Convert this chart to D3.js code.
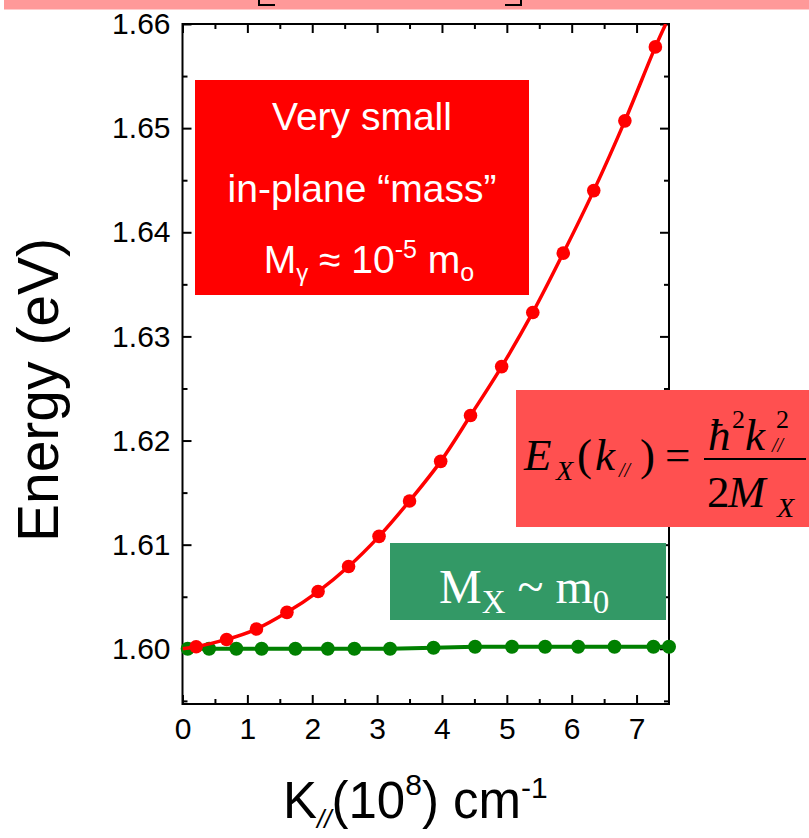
<!DOCTYPE html>
<html>
<head>
<meta charset="utf-8">
<script src="https://cdn.jsdelivr.net/npm/d3@7"></script>
<style>
  body { margin: 0; background: #fff; }
  svg { display: block; }
</style>
</head>
<body>
<div id="chart"></div>
<script>
// data
var xTicks = [0, 1, 2, 3, 4, 5, 6, 7];
var yTicks = [1.60, 1.61, 1.62, 1.63, 1.64, 1.65, 1.66];

// red: small in-plane mass
var redK = [0.21, 0.68, 1.14, 1.61, 2.09, 2.56, 3.03, 3.50, 3.98, 4.44, 4.92, 5.40, 5.87, 6.34, 6.82, 7.29];
var redE = [1.6002, 1.6009, 1.6019, 1.6035, 1.6055, 1.6079, 1.6108, 1.6142, 1.6180, 1.6224, 1.6271, 1.6323, 1.6380, 1.6440, 1.6507, 1.6578];
// ends of the red fit curve
var redFitK = [0, 7.45];
var redFitE = [1.6000, 1.6600];

// green: M_X ~ m0
var greenK = [0.08, 0.41, 0.83, 1.22, 1.74, 2.24, 2.65, 3.20, 3.87, 4.51, 5.08, 5.59, 6.10, 6.66, 7.26, 7.50];
var greenE = [1.6000, 1.6000, 1.6000, 1.6000, 1.6000, 1.6000, 1.6000, 1.6000, 1.6001, 1.6002, 1.6002, 1.6002, 1.6002, 1.6002, 1.6002, 1.6002];

var W = 809, H = 838;
var plot = {left: 182.5, right: 669, top: 24, bottom: 704};

var svg = d3.select("#chart")
  .append("svg")
  .attr("width", W)
  .attr("height", H);

//pink band and bracket bits at the top
svg.append("rect")
  .attr("x", 4).attr("y", 0)
  .attr("width", W - 4).attr("height", 9.5)
  .style("fill", "#ff9999");
svg.append("path")
  .attr("d", "M259,0V5H275 M521,0V5H505")
  .style("fill", "none").style("stroke", "#000").style("stroke-width", 2);

var xScale = d3.scaleLinear().domain([0, 7.5]).range([plot.left, plot.right]);
var yScale = d3.scaleLinear().domain([1.5947, 1.66]).range([plot.bottom, plot.top]);

var xMinor = d3.range(0.5, 7.5, 1);
var yMinor = d3.range(1.595, 1.66, 0.01);

function styleAxis(g) {
  g.select(".domain").remove();
  g.selectAll(".tick line").style("stroke", "#000").style("stroke-width", 2);
  g.selectAll("text")
    .style("font-family", "'Liberation Sans', Arial, sans-serif")
    .style("font-size", "30px")
    .style("fill", "#000");
}

// bottom
svg.append("g")
  .attr("transform", "translate(0," + plot.bottom + ")")
  .call(d3.axisBottom(xScale).tickValues(xTicks).tickSize(-9).tickPadding(14).tickFormat(d3.format("d")))
  .call(styleAxis);
svg.append("g")
  .attr("transform", "translate(0," + plot.bottom + ")")
  .call(d3.axisBottom(xScale).tickValues(xMinor).tickSize(-5).tickFormat(""))
  .call(styleAxis);
// top
svg.append("g")
  .attr("transform", "translate(0," + plot.top + ")")
  .call(d3.axisTop(xScale).tickValues(xTicks).tickSize(-9).tickFormat(""))
  .call(styleAxis);
svg.append("g")
  .attr("transform", "translate(0," + plot.top + ")")
  .call(d3.axisTop(xScale).tickValues(xMinor).tickSize(-5).tickFormat(""))
  .call(styleAxis);
// left
svg.append("g")
  .attr("transform", "translate(" + plot.left + ",0)")
  .call(d3.axisLeft(yScale).tickValues(yTicks).tickSize(-9).tickPadding(12).tickFormat(d3.format(".2f")))
  .call(styleAxis);
svg.append("g")
  .attr("transform", "translate(" + plot.left + ",0)")
  .call(d3.axisLeft(yScale).tickValues(yMinor).tickSize(-5).tickFormat(""))
  .call(styleAxis);
// right
svg.append("g")
  .attr("transform", "translate(" + plot.right + ",0)")
  .call(d3.axisRight(yScale).tickValues(yTicks).tickSize(-9).tickFormat(""))
  .call(styleAxis);
svg.append("g")
  .attr("transform", "translate(" + plot.right + ",0)")
  .call(d3.axisRight(yScale).tickValues(yMinor).tickSize(-5).tickFormat(""))
  .call(styleAxis);

//frame
svg.append("rect")
  .attr("x", plot.left).attr("y", plot.top)
  .attr("width", plot.right - plot.left)
  .attr("height", plot.bottom - plot.top)
  .style("fill", "none").style("stroke", "#000").style("stroke-width", 2);

svg.append("clipPath").attr("id", "clip")
  .append("rect")
  .attr("x", plot.left).attr("y", plot.top)
  .attr("width", plot.right - plot.left)
  .attr("height", plot.bottom - plot.top);

var redPts = redK.map(function(k, i) { return [k, redE[i]]; });
var greenPts = greenK.map(function(k, i) { return [k, greenE[i]]; });
var redLinePts = [[redFitK[0], redFitE[0]]].concat(redPts, [[redFitK[1], redFitE[1]]]);

var line = d3.line()
  .x(function(d) { return xScale(d[0]); })
  .y(function(d) { return yScale(d[1]); });

// green series
svg.append("path")
  .datum([[0, greenE[0]]].concat(greenPts))
  .attr("clip-path", "url(#clip)")
  .attr("d", line)
  .style("fill", "none").style("stroke", "#008000").style("stroke-width", 4);
svg.selectAll(".gdot")
  .data(greenPts)
  .enter().append("circle")
  .attr("class", "gdot")
  .attr("cx", function(d) { return xScale(d[0]); })
  .attr("cy", function(d) { return yScale(d[1]); })
  .attr("r", 7)
  .style("fill", "#008000");

// red series
svg.append("path")
  .datum(redLinePts)
  .attr("clip-path", "url(#clip)")
  .attr("d", line.curve(d3.curveCatmullRom))
  .style("fill", "none").style("stroke", "#ff0000").style("stroke-width", 3.5);
svg.selectAll(".rdot")
  .data(redPts)
  .enter().append("circle")
  .attr("class", "rdot")
  .attr("cx", function(d) { return xScale(d[0]); })
  .attr("cy", function(d) { return yScale(d[1]); })
  .attr("r", 6.8)
  .style("fill", "#ff0000");

// axis titles
svg.append("text")
  .attr("transform", "translate(58,390) rotate(-90)")
  .attr("text-anchor", "middle")
  .style("font-family", "'Liberation Sans', Arial, sans-serif")
  .style("font-size", "57px")
  .text("Energy (eV)");

var xt = svg.append("text")
  .attr("x", 283).attr("y", 818)
  .style("font-family", "'Liberation Sans', Arial, sans-serif")
  .style("font-size", "51px");
xt.append("tspan").text("K");
xt.append("tspan").attr("dy", 10).style("font-size", "26px").style("font-style", "italic").text("//");
xt.append("tspan").attr("dy", -10).text("(10");
xt.append("tspan").attr("dy", -23).style("font-size", "30px").text("8");
xt.append("tspan").attr("dy", 23).text(") cm");
xt.append("tspan").attr("dy", -20).style("font-size", "30px").text("-1");

// red annotation box
svg.append("rect")
  .attr("x", 195).attr("y", 80).attr("width", 334).attr("height", 215)
  .style("fill", "#ff0000");
var sans = "'Liberation Sans', Arial, sans-serif";
svg.append("text")
  .attr("x", 362).attr("y", 130).attr("text-anchor", "middle")
  .style("font-family", sans).style("font-size", "39px").style("fill", "#fff")
  .text("Very small");
svg.append("text")
  .attr("x", 362).attr("y", 202).attr("text-anchor", "middle")
  .style("font-family", sans).style("font-size", "39px").style("fill", "#fff")
  .text("in-plane \u201cmass\u201d");
var t3 = svg.append("text")
  .attr("x", 369).attr("y", 273).attr("text-anchor", "middle")
  .style("font-family", sans).style("font-size", "39px").style("fill", "#fff");
t3.append("tspan").text("M");
t3.append("tspan").attr("dy", 8).style("font-size", "24px").text("\u03b3");
t3.append("tspan").attr("dy", -8).text(" \u2248 10");
t3.append("tspan").attr("dy", -15).style("font-size", "25px").text("-5");
t3.append("tspan").attr("dy", 15).text(" m");
t3.append("tspan").attr("dy", 8).style("font-size", "25px").text("o");

// formula box
svg.append("rect")
  .attr("x", 516).attr("y", 390).attr("width", W - 516).attr("height", 137)
  .style("fill", "#ff5050");
var serif = "'Liberation Serif', 'Times New Roman', serif";
var formula = [
  {t: "E", x: 524, y: 470, s: 45, i: true},
  {t: "X", x: 556, y: 480, s: 28, i: true},
  {t: "(", x: 577, y: 470, s: 45, i: false},
  {t: "k", x: 595, y: 470, s: 45, i: true},
  {t: "//", x: 619, y: 477, s: 20, i: true},
  {t: ")", x: 640, y: 470, s: 45, i: false},
  {t: "=", x: 665, y: 470, s: 45, i: false},
  {t: "\u0127", x: 708, y: 450, s: 45, i: true},
  {t: "2", x: 732, y: 428, s: 26, i: false},
  {t: "k", x: 745, y: 450, s: 45, i: true},
  {t: "2", x: 776, y: 428, s: 26, i: false},
  {t: "//", x: 772, y: 452, s: 20, i: true},
  {t: "2", x: 707, y: 507, s: 45, i: false},
  {t: "M", x: 728, y: 507, s: 45, i: true},
  {t: "X", x: 777, y: 517, s: 28, i: true}
];
svg.selectAll(".fml")
  .data(formula)
  .enter().append("text")
  .attr("class", "fml")
  .attr("x", function(d) { return d.x; })
  .attr("y", function(d) { return d.y; })
  .style("font-family", serif)
  .style("font-size", function(d) { return d.s + "px"; })
  .style("font-style", function(d) { return d.i ? "italic" : "normal"; })
  .text(function(d) { return d.t; });
svg.append("line")
  .attr("x1", 704).attr("x2", 806).attr("y1", 459).attr("y2", 459)
  .style("stroke", "#000").style("stroke-width", 2);

// green box
svg.append("rect")
  .attr("x", 390).attr("y", 543).attr("width", 276).attr("height", 77)
  .style("fill", "#339966");
var g3 = svg.append("text")
  .attr("x", 439).attr("y", 603)
  .style("font-family", serif).style("font-size", "48px").style("fill", "#fff");
g3.append("tspan").text("M");
g3.append("tspan").attr("dy", 10).style("font-size", "33px").text("X");
g3.append("tspan").attr("dy", -10).text(" ~ m");
g3.append("tspan").attr("dy", 10).style("font-size", "33px").text("0");
</script>
</body>
</html>
